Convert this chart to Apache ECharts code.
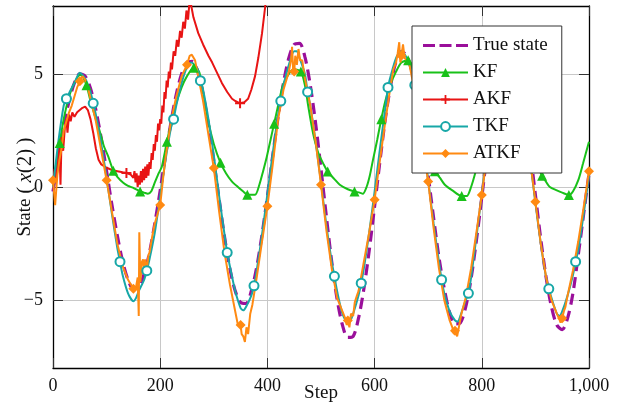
<!DOCTYPE html>
<html><head><meta charset="utf-8">
<script src="https://cdn.jsdelivr.net/npm/echarts@6/dist/echarts.min.js"></script>
<style>html,body{margin:0;padding:0;background:#fff}#c{width:624px;height:408px}</style>
</head><body><div id="c"></div><script>
// ---- axis / tick data ----
const xTicks = [0, 200, 400, 600, 800, 1000];
const yTicks = [-5, 0, 5];
const names = ['True state', 'KF', 'AKF', 'TKF', 'ATKF'];

// ---- True state (sampled every 10 steps) ----
const trueSteps = Array.from({length: 101}, (_, i) => i * 10);
const trueVals = [
  -0.2, 1.3, 2.7, 3.8, 4.6, 5.0, 4.9, 4.35, 3.4, 2.15,
  0.7, -0.8, -2.15, -3.3, -4.1, -4.5, -4.4, -3.85, -2.9, -1.6,
  -0.15, 1.4, 2.85, 4.1, 5.0, 5.5, 5.55, 5.1, 4.1, 2.75,
  1.15, -0.55, -2.2, -3.6, -4.6, -5.1, -5.15, -4.6, -3.55, -2.1,
  -0.4, 1.4, 3.1, 4.6, 5.7, 6.3, 6.35, 5.75, 4.5, 2.8,
  0.8, -1.3, -3.3, -4.95, -6.1, -6.65, -6.6, -5.8, -4.5, -2.8,
  -0.85, 1.15, 3.0, 4.5, 5.55, 6.0, 5.8, 5.1, 3.9, 2.3,
  0.5, -1.35, -3.1, -4.5, -5.55, -6.05, -6.0, -5.3, -4.05, -2.35,
  -0.45, 1.5, 3.3, 4.75, 5.7, 6.0, 5.7, 4.8, 3.4, 1.6,
  -0.35, -2.3, -4.0, -5.3, -6.1, -6.3, -5.8, -4.7, -3.0, -1.2,
  0.6
];

// ---- KF ----
const kfSteps = [0,5,10,12.5,20,30,40,50,55,62.5,70,80,88,95,103,112.5,120,131,140,149,162.5,170,177,183,190,197,203,212.5,220,228,240,250,262.5,270,275,280,289,300,312.5,323,334,345,355,362.5,377,385,392,399,412.5,420,429,440,450,462.5,470,476,485,495,505,512.5,525,535,550,562.5,572,578,585,591,597,605,612.5,620,629,640,650,662.5,670,680,690,700,707,712.5,722,731,745,762.5,772,780,787,795,805,812.5,825,840,855,862.5,875,885,895,905,912.5,918,927,940,950,962.5,970,980,989,1000];
const kfVals = [0.3,0.9,1.6,1.95,3.0,4.0,4.6,4.95,4.9,4.5,3.8,3.0,2.4,1.8,1.35,0.72,0.45,0.19,0.05,-0.03,-0.2,-0.25,-0.3,-0.2,0.2,0.6,0.9,2.0,2.8,3.55,4.4,4.9,5.27,5.2,4.9,4.2,2.97,1.9,1.07,0.6,0.24,0.0,-0.2,-0.34,-0.34,0.1,0.7,1.35,2.8,3.6,4.5,5.0,5.2,5.1,4.5,3.6,2.4,1.5,1.0,0.68,0.35,0.1,-0.1,-0.2,-0.25,-0.3,0.0,0.5,1.2,2.1,3.0,3.8,4.5,5.1,5.5,5.6,5.3,4.0,2.6,1.5,0.9,0.7,0.4,0.1,-0.15,-0.4,-0.4,0.0,0.55,1.3,2.4,3.2,4.4,5.1,5.5,5.6,4.8,3.4,2.0,0.9,0.5,0.3,0.0,-0.15,-0.25,-0.35,-0.2,0.3,1.05,2.0];
const kfMarks = [12.5,62.5,112.5,162.5,212.5,262.5,312.5,362.5,412.5,462.5,512.5,562.5,612.5,662.5,712.5,762.5,812.5,862.5,912.5,962.5];

// ---- AKF ----
const akfSteps = [0,3,6,9,12,14,16,19,22,25,27,30,33,36,40,45,50,55,60,65,70,75,80,85,90,100,110,120,130,137,145,150,152,154,156,158,160,162,164,166,168,170,172,174,176,178,180,182,184,186,188,190,192,194,196,198,200,202,204,206,208,210,212,214,216,218,220,222,225,228,231,234,237,240,243,246,249,252,255,258,262,271,280,290,297,305,315,325,334,340,349,357,364,370,377,383,390,396,405,415];
const akfVals = [0.0,0.8,0.2,1.0,1.8,0.1,2.2,1.6,2.6,3.0,2.4,3.2,2.9,3.3,3.1,3.3,3.4,3.5,3.55,3.4,3.0,2.4,1.7,1.2,1.0,0.85,0.75,0.7,0.65,0.62,0.55,0.4,0.7,0.2,0.6,0.0,0.5,0.1,0.7,0.2,0.8,0.3,0.9,0.4,1.0,0.5,1.1,0.8,1.5,1.2,1.9,1.6,2.3,2.0,2.8,2.5,3.0,2.8,3.6,3.3,4.2,3.9,4.7,4.4,5.1,4.8,5.5,5.2,6.0,5.8,6.5,6.2,6.9,6.6,7.3,7.0,7.8,7.4,8.3,8.0,7.5,6.8,6.3,5.8,5.5,5.1,4.6,4.2,3.9,3.8,3.7,3.75,3.9,4.3,4.9,5.7,6.8,8.0,10,13];
const akfMarks = [137, 349];

// ---- TKF ----
const tkfSteps = [0,10,20,25,30,40,50,60,70,75,80,90,100,110,120,125,130,140,150,155,160,170,175,180,190,200,210,220,225,230,240,250,258,270,275,280,290,300,310,320,325,330,340,350,355,360,370,375,380,390,400,410,420,425,430,440,450,455,460,470,475,480,490,500,510,520,525,530,540,550,555,560,570,575,580,590,600,610,620,625,630,640,650,660,670,675,680,690,700,710,720,725,730,740,750,755,760,770,775,780,790,800,810,820,825,830,840,850,860,870,875,880,890,900,910,920,925,930,940,945,950,960,970,975,980,990,1000];
const tkfVals = [0.0,2.0,3.6,3.9,4.15,4.6,5.05,4.8,4.2,3.7,3.2,1.9,0.4,-1.2,-2.7,-3.3,-3.9,-4.7,-5.05,-4.9,-4.6,-4.1,-3.7,-3.2,-2.0,-0.4,1.2,2.6,3.0,3.6,4.6,5.3,5.5,5.2,4.7,4.3,3.0,1.4,-0.4,-2.1,-2.9,-3.5,-4.6,-5.35,-5.45,-5.3,-4.8,-4.37,-3.7,-2.1,-0.3,1.5,3.2,3.8,4.5,5.4,6.0,6.0,5.7,5.0,4.2,3.6,2.0,0.2,-1.7,-3.3,-3.95,-4.6,-5.6,-6.0,-5.9,-5.6,-4.8,-4.25,-3.6,-2.0,-0.2,1.7,3.5,4.4,4.9,5.7,6.0,5.7,5.0,4.5,3.8,2.2,0.3,-1.6,-3.3,-4.1,-4.7,-5.5,-5.9,-5.95,-5.7,-5.0,-4.7,-4.0,-2.2,-0.3,1.6,3.4,4.1,4.8,5.7,5.9,5.5,4.5,3.8,3.0,1.2,-0.7,-2.5,-4.0,-4.5,-4.9,-5.6,-5.7,-5.5,-4.8,-3.9,-3.3,-2.8,-1.2,0.5];
const tkfMarks = [25,75,125,175,225,275,325,375,425,475,525,575,625,675,725,775,825,875,925,975];

// ---- ATKF ----
const atkfSteps = [0,4,8,12,16,20,25,30,35,40,45,50,55,60,65,70,75,80,90,100,110,120,130,140,145,150,155,158,160,161,163,166,168,170,172,175,178,180,185,190,195,200,205,210,220,230,240,250,255,259,265,270,280,290,300,310,320,330,340,345,350,352,355,358,361,364,368,372,376,380,390,400,410,420,430,440,444,446,448,450,452,455,458,461,465,470,480,490,500,510,520,530,540,545,548,550,553,556,560,563,567,570,580,590,600,610,620,630,635,640,643,646,648,650,653,656,660,665,670,680,690,700,710,720,730,740,745,748,750,754,758,762,770,780,790,800,810,820,830,840,850,860,870,880,890,900,910,920,930,940,944,947,950,953,956,960,970,980,990,1000];
const atkfVals = [0.3,-0.8,0.5,1.2,1.7,2.5,2.9,3.3,3.6,4.0,4.4,4.67,4.9,4.75,4.4,3.9,3.4,2.9,1.6,0.3,-1.1,-2.5,-3.5,-4.1,-4.3,-4.5,-4.4,-4.0,-5.7,-2.0,-4.2,-3.3,-3.2,-3.6,-3.2,-3.7,-3.0,-2.9,-2.2,-1.6,-1.2,-0.8,0.3,1.3,2.9,4.0,4.9,5.4,5.8,5.85,5.6,5.0,3.8,2.3,0.84,-1.1,-2.9,-4.3,-5.5,-6.1,-6.1,-6.5,-6.6,-6.85,-6.2,-6.5,-5.6,-5.2,-4.6,-4.0,-2.4,-0.85,1.0,3.0,4.3,5.1,5.6,6.2,5.2,5.1,5.8,5.4,6.1,5.6,5.6,4.8,3.6,2.0,0.1,-1.9,-3.6,-4.9,-5.5,-5.8,-6.1,-5.9,-6.2,-5.6,-5.7,-5.1,-4.8,-4.6,-3.3,-2.0,-0.56,1.2,2.9,4.5,5.2,5.5,5.9,6.4,5.5,5.8,6.3,5.7,5.6,5.4,4.8,3.5,1.8,0.24,-1.8,-3.6,-5.0,-5.9,-6.2,-6.5,-6.35,-6.6,-6.1,-5.6,-4.9,-3.6,-2.0,-0.35,1.5,3.3,4.6,5.5,5.8,5.4,4.4,3.0,1.2,-0.65,-2.5,-4.0,-5.0,-5.6,-5.8,-6.0,-5.8,-5.5,-5.3,-4.8,-3.7,-2.4,-0.9,0.7];
const atkfMarks = [0,50,100,150,200,250,300,350,400,450,500,550,600,650,700,750,800,850,900,950,1000];

const colors = ['#9a0f9a', '#19c119', '#e81414', '#17a7a7', '#ff8a12'];
const FONT = 'Liberation Serif';
const plusPath = 'path://M3.2,0 H4.8 V3.2 H8 V4.8 H4.8 V8 H3.2 V4.8 H0 V3.2 H3.2 Z';
const dashIcon = 'path://M0,0h0.01v0.01h-0.01z M0,3.9h12v3.2h-12z M16.5,3.9h12v3.2h-12z M33,3.9h12v3.2h-12z M44.99,10.99h0.01v0.01h-0.01z';

function build(steps, vals, marks) {
  const set = new Set(marks || []);
  return steps.map((s, i) => set.has(s) ? [s, vals[i]] : {value: [s, vals[i]], symbol: 'none'});
}

const chart = echarts.init(document.getElementById('c'), null, {renderer: 'canvas'});
const fmtX = v => v.toLocaleString('en-US');
const fmtY = v => v < 0 ? '\u2212' + Math.abs(v) : String(v);
const xMin = xTicks[0], xMax = xTicks[xTicks.length - 1];

const baseSeries = {type: 'line', animation: false, emphasis: {disabled: true}, clip: true, z: 2};
chart.setOption({
  animation: false,
  grid: {left: 53, right: 35, top: 6, bottom: 40, containLabel: false, outerBoundsMode: 'none'},
  legend: {
    orient: 'vertical', left: 412, top: 26, padding: [10, 14, 10, 10],
    backgroundColor: '#fff', borderColor: '#333', borderWidth: 1,
    itemWidth: 45, itemHeight: 11, itemGap: 8,
    textStyle: {fontFamily: FONT, fontSize: 19, color: '#111'},
    data: [{name: names[0], icon: dashIcon}, names[1], names[2], names[3], names[4]],
    z: 10, selectedMode: false
  },
  xAxis: [{
    type: 'value', min: xMin, max: xMax, interval: 200,
    name: 'Step', nameLocation: 'middle', nameGap: 16, nameMoveOverlap: false,
    nameTextStyle: {fontFamily: FONT, fontSize: 19, color: '#111'},
    axisLine: {show: true, onZero: false, lineStyle: {color: '#000', width: 1.3}},
    axisTick: {show: true, inside: true, length: 10, lineStyle: {color: '#333', width: 1}},
    axisLabel: {formatter: fmtX, fontFamily: FONT, fontSize: 18, color: '#111', margin: 9},
    splitLine: {show: true, lineStyle: {color: '#c8c8c8', width: 1}}
  }, {
    type: 'value', position: 'top', min: xMin, max: xMax, interval: 200,
    axisLine: {show: true, onZero: false, lineStyle: {color: '#000', width: 1.3}},
    axisTick: {show: true, inside: true, length: 10, lineStyle: {color: '#333', width: 1}},
    axisLabel: {show: false}, splitLine: {show: false}
  }],
  yAxis: [{
    type: 'value', min: -8, max: 8,
    name: '{n|State }{m|(\u2009}{i|x}{m|(2)\u2009)}', nameLocation: 'middle', nameGap: 17, nameMoveOverlap: false,
    nameTextStyle: {rich: {
      n: {fontFamily: FONT, fontSize: 19, color: '#111'},
      m: {fontFamily: FONT, fontSize: 21, color: '#111'},
      i: {fontFamily: FONT, fontSize: 21, fontStyle: 'italic', color: '#111'}}},
    axisLine: {show: true, onZero: false, lineStyle: {color: '#000', width: 1.3}},
    axisTick: {show: true, inside: true, length: 10, customValues: yTicks, lineStyle: {color: '#333', width: 1}},
    axisLabel: {customValues: yTicks, formatter: fmtY, fontFamily: FONT, fontSize: 18, color: '#111', margin: 10},
    splitLine: {show: true, lineStyle: {color: '#c8c8c8', width: 1}}
  }, {
    type: 'value', position: 'right', min: -8, max: 8,
    axisLine: {show: true, onZero: false, lineStyle: {color: '#000', width: 1.3}},
    axisTick: {show: true, inside: true, length: 10, customValues: yTicks, lineStyle: {color: '#333', width: 1}},
    axisLabel: {show: false}, splitLine: {show: false}
  }],
  series: [
    Object.assign({}, baseSeries, {name: names[0], data: build(trueSteps, trueVals, []), symbol: 'none', smooth: 0.3,
      lineStyle: {color: colors[0], width: 3.2, type: [11, 6]}, itemStyle: {color: colors[0]}}),
    Object.assign({}, baseSeries, {name: names[1], data: build(kfSteps, kfVals, kfMarks), symbol: 'triangle', symbolSize: 10, smooth: 0.25,
      lineStyle: {color: colors[1], width: 2}, itemStyle: {color: colors[1]}}),
    Object.assign({}, baseSeries, {name: names[2], data: build(akfSteps, akfVals, akfMarks), symbol: plusPath, symbolSize: 10,
      lineStyle: {color: colors[2], width: 2}, itemStyle: {color: colors[2]}}),
    Object.assign({}, baseSeries, {name: names[3], data: build(tkfSteps, tkfVals, tkfMarks), symbol: 'emptyCircle', symbolSize: 9, smooth: 0.25,
      lineStyle: {color: colors[3], width: 2}, itemStyle: {color: colors[3], borderColor: colors[3], borderWidth: 2}}),
    Object.assign({}, baseSeries, {name: names[4], data: build(atkfSteps, atkfVals, atkfMarks), symbol: 'diamond', symbolSize: 10,
      lineStyle: {color: colors[4], width: 2}, itemStyle: {color: colors[4]}})
  ]
});
</script></body></html>
